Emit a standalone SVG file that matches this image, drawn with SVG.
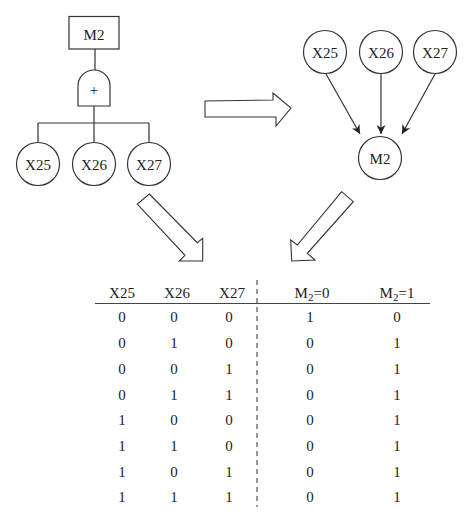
<svg xmlns="http://www.w3.org/2000/svg" width="474" height="523" viewBox="0 0 474 523">
<defs>
<style>
.s{fill:none;stroke:#333;stroke-width:1.2}
.n{fill:#fff;stroke:#333;stroke-width:1.2}
.t{font-family:"Liberation Serif","Times New Roman",serif;font-size:15px;fill:#222;text-anchor:middle}
.big{fill:#fff;stroke:#333;stroke-width:1.1;stroke-linejoin:miter}
</style>
<marker id="ah" viewBox="0 0 10 10" refX="10" refY="5" markerWidth="9" markerHeight="9" markerUnits="userSpaceOnUse" orient="auto">
<path d="M0,0 L10,5 L0,10 L3,5 Z" fill="#222"/>
</marker>
</defs>
<rect width="474" height="523" fill="#fff"/>

<g id="connectors">
<path class="s" d="M95,49 V70 M94,106 V123 M38,123 H149 M38,123 V143 M94,123 V143 M149,123 V143"/>
<line class="s" x1="326" y1="74" x2="360" y2="134" marker-end="url(#ah)"/>
<line class="s" x1="381" y1="73" x2="381" y2="134" marker-end="url(#ah)"/>
<line class="s" x1="435" y1="74" x2="402" y2="134" marker-end="url(#ah)"/>
</g>

<g id="ft-M2"><rect class="n" x="69" y="16.5" width="50" height="32.5"/><text class="t" x="94" y="39.5">M2</text></g>
<g id="ft-gate"><path class="n" d="M78,106 V86 A16,16 0 0 1 110,86 V106 Z"/><text class="t" x="94" y="95">+</text></g>
<g id="ft-X25"><circle class="n" cx="38" cy="164" r="21.5"/><text class="t" x="38" y="169.5">X25</text></g>
<g id="ft-X26"><circle class="n" cx="94" cy="164" r="21.5"/><text class="t" x="94" y="169.5">X26</text></g>
<g id="ft-X27"><circle class="n" cx="149" cy="164" r="21.5"/><text class="t" x="149" y="169.5">X27</text></g>

<g id="bn-X25"><circle class="n" cx="325" cy="52" r="21.5"/><text class="t" x="325" y="57.5">X25</text></g>
<g id="bn-X26"><circle class="n" cx="381" cy="52" r="21.5"/><text class="t" x="381" y="57.5">X26</text></g>
<g id="bn-X27"><circle class="n" cx="435" cy="52" r="21.5"/><text class="t" x="435" y="57.5">X27</text></g>
<g id="bn-M2"><circle class="n" cx="380" cy="158" r="21.5"/><text class="t" x="380" y="163.5">M2</text></g>

<g id="arrow-right"><polygon class="big" points="205,101 273,100 273,93 291,108 276,126 276,117 205,117"/></g>
<g id="arrow-down-right"><polygon class="big" points="149.3,194 197.3,242.7 202.7,238.3 202.7,261 179.3,261 185,255.3 137.3,204"/></g>
<g id="arrow-down-left"><polygon class="big" points="341.7,191.7 297.3,245 290.7,240 291.7,261 315,260 307.3,253.3 353.3,201.7"/></g>

<g id="table">
<line x1="95" y1="303.5" x2="430" y2="303.5" stroke="#444" stroke-width="1.1"/>
<line x1="257" y1="280" x2="257" y2="507" stroke="#444" stroke-width="1.1" stroke-dasharray="5,4"/>
<g class="t">
<text x="122" y="297.5">X25</text>
<text x="177" y="297.5">X26</text>
<text x="232" y="297.5">X27</text>
<text x="312" y="297.5">M<tspan font-size="11" dy="3">2</tspan><tspan dy="-3">=0</tspan></text>
<text x="397" y="297.5">M<tspan font-size="11" dy="3">2</tspan><tspan dy="-3">=1</tspan></text>
</g>
<g class="t">
<text x="122" y="322">0</text><text x="174" y="322">0</text><text x="229" y="322">0</text><text x="310" y="322">1</text><text x="397" y="322">0</text>
<text x="122" y="348">0</text><text x="174" y="348">1</text><text x="229" y="348">0</text><text x="310" y="348">0</text><text x="397" y="348">1</text>
<text x="122" y="374">0</text><text x="174" y="374">0</text><text x="229" y="374">1</text><text x="310" y="374">0</text><text x="397" y="374">1</text>
<text x="122" y="399.5">0</text><text x="174" y="399.5">1</text><text x="229" y="399.5">1</text><text x="310" y="399.5">0</text><text x="397" y="399.5">1</text>
<text x="122" y="425">1</text><text x="174" y="425">0</text><text x="229" y="425">0</text><text x="310" y="425">0</text><text x="397" y="425">1</text>
<text x="122" y="451">1</text><text x="174" y="451">1</text><text x="229" y="451">0</text><text x="310" y="451">0</text><text x="397" y="451">1</text>
<text x="122" y="476.5">1</text><text x="174" y="476.5">0</text><text x="229" y="476.5">1</text><text x="310" y="476.5">0</text><text x="397" y="476.5">1</text>
<text x="122" y="502">1</text><text x="174" y="502">1</text><text x="229" y="502">1</text><text x="310" y="502">0</text><text x="397" y="502">1</text>
</g>
</g>
</svg>
